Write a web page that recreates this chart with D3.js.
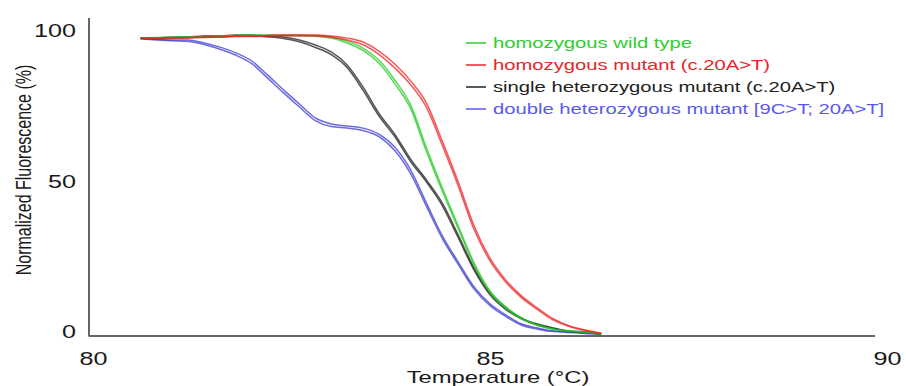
<!DOCTYPE html>
<html>
<head>
<meta charset="utf-8">
<script src="https://cdn.jsdelivr.net/npm/d3@7"></script>
<style>
  html, body { margin: 0; padding: 0; background: #fff; }
  svg { display: block; font-family: "Liberation Sans", Arial, sans-serif; }
</style>
</head>
<body>
<svg id="chart" width="906" height="386"></svg>
<script>
// ---- data ----
const temps = [80.6, 80.8, 81.0, 81.2, 81.4, 81.6, 81.8, 82.0, 82.2, 82.4,
               82.6, 82.8, 83.0, 83.2, 83.4, 83.6, 83.8, 84.0, 84.2, 84.4,
               84.6, 84.8, 85.0, 85.2, 85.4, 85.6, 85.8, 86.0, 86.2, 86.4];

const doubleHetA = [98.3, 98.0, 97.7, 97.7, 96.7, 95.3, 93.4, 90.7, 86.0, 81.1,
                    76.4, 71.8, 69.8, 69.1, 68.4, 66.4, 62.1, 54.5, 43.5, 32.6,
                    23.9, 15.6, 10.0, 6.3, 3.3, 2.0, 1.0, 0.7, 0.3, 0];
const doubleHetB = [98.1, 97.7, 97.4, 97.2, 96.2, 94.6, 92.6, 89.8, 85.0, 80.1,
                    75.4, 70.9, 68.9, 68.4, 67.6, 65.6, 61.0, 53.3, 42.4, 31.7,
                    23.1, 14.9, 9.4, 5.8, 2.9, 1.6, 0.8, 0.5, 0.2, 0];
const singleHetA = [98.3, 98.3, 98.7, 98.7, 99.0, 99.0, 99.3, 99.3, 99.0, 98.7,
                    97.7, 96.0, 93.7, 89.4, 82.1, 73.4, 66.4, 58.1, 51.2, 43.5,
                    32.9, 21.9, 13.6, 8.6, 5.3, 3.3, 2.0, 1.0, 0.7, 0];
const singleHetB = [98.2, 98.1, 98.4, 98.5, 98.8, 98.9, 99.1, 99.0, 98.7, 98.2,
                    97.1, 95.2, 92.8, 88.5, 81.0, 72.5, 65.6, 57.3, 50.5, 42.6,
                    32.0, 21.2, 13.0, 8.1, 5.0, 3.0, 1.8, 0.8, 0.5, 0];
const wildTypeA  = [98.3, 98.5, 98.7, 98.7, 98.8, 99.0, 99.2, 99.3, 99.3, 99.3,
                    99.3, 99.2, 98.7, 97.3, 95.0, 91.0, 84.4, 76.1, 61.8, 48.5,
                    35.9, 23.6, 14.3, 9.0, 5.3, 3.0, 1.7, 1.0, 0.7, 0];
const wildTypeB  = [98.2, 98.3, 98.5, 98.6, 98.7, 98.8, 99.0, 99.1, 99.2, 99.1,
                    99.1, 98.9, 98.3, 96.7, 94.2, 90.0, 83.2, 74.9, 60.6, 47.4,
                    35.0, 22.9, 13.8, 8.5, 5.0, 2.8, 1.5, 0.9, 0.5, 0];
const homMutA    = [98.3, 98.3, 98.3, 98.5, 98.7, 98.7, 99.0, 99.0, 99.2, 99.3,
                    99.3, 99.3, 99.0, 98.3, 97.0, 94.0, 89.7, 84.1, 76.7, 64.0,
                    50.5, 35.9, 25.2, 17.9, 12.6, 8.6, 5.0, 2.7, 1.3, 0.3];
const homMutB    = [98.2, 98.1, 98.2, 98.3, 98.5, 98.6, 98.8, 98.8, 99.0, 99.1,
                    99.1, 99.0, 98.6, 97.7, 96.1, 92.9, 88.4, 82.8, 75.3, 62.6,
                    49.2, 34.7, 24.3, 17.2, 12.0, 8.1, 4.6, 2.5, 1.1, 0.2];

const legendLabels = ["homozygous wild type", "homozygous mutant (c.20A>T)",
                      "single heterozygous mutant (c.20A>T)", "double heterozygous mutant [9C>T; 20A>T]"];
const xTicks = [80, 85, 90];
const yTicks = [0, 50, 100];

// ---- styling ----
const colors = { wt: "#22c922", hom: "#ec2224", single: "#1e1e1e", dbl: "#3b3bd0" };
const legendColors = ["#2fcf2f", "#e8262a", "#222222", "#5a5af0"];
const textStretch = 1.4;

const svg = d3.select("#chart");
const x = d3.scaleLinear().domain([80, 90]).range([93, 887]);
const y = d3.scaleLinear().domain([0, 100]).range([334, 33]);

const axisX0 = 89, axisX1 = 875, axisY0 = 336, axisYTop = 18;

// axis lines
svg.append("line").attr("x1", axisX0).attr("x2", axisX0).attr("y1", axisYTop).attr("y2", axisY0 + 0.5)
  .attr("stroke", "#666").attr("stroke-width", 2);
svg.append("line").attr("x1", axisX0).attr("x2", axisX1).attr("y1", axisY0).attr("y2", axisY0)
  .attr("stroke", "#666").attr("stroke-width", 2);

// x axis ticks (labels only)
const gx = svg.append("g").attr("transform", `translate(0,${axisY0})`)
  .call(d3.axisBottom(x).tickValues(xTicks).tickSize(0).tickFormat(d3.format("d")));
gx.select(".domain").remove();
gx.selectAll("text").attr("y", 29).attr("dy", null)
  .attr("font-size", 18).attr("fill", "#1a1a1a")
  .attr("font-family", "Liberation Sans, Arial, sans-serif")
  .attr("transform", `scale(${textStretch},1)`);

// y axis ticks (labels only)
const gy = svg.append("g").attr("transform", `translate(${axisX0},0)`)
  .call(d3.axisLeft(y).tickValues(yTicks).tickSize(0).tickFormat(d3.format("d")));
gy.select(".domain").remove();
gy.selectAll("text").attr("x", -13 / textStretch).attr("dy", "0.2em")
  .attr("font-size", 18).attr("fill", "#1a1a1a")
  .attr("font-family", "Liberation Sans, Arial, sans-serif")
  .attr("transform", `scale(${textStretch},1)`);

// axis titles
svg.append("g").attr("transform", `translate(498,383)`)
  .append("text").attr("text-anchor", "middle").attr("font-size", 17).attr("fill", "#1a1a1a")
  .attr("transform", `scale(${textStretch},1)`).text("Temperature (°C)");
svg.append("g").attr("transform", `translate(31,170)`)
  .append("text").attr("text-anchor", "middle").attr("font-size", 16).attr("fill", "#1a1a1a")
  .attr("transform", `scale(${textStretch},1) rotate(-90)`).text("Normalized Fluorescence (%)");

// curves
const line = d3.line().x((d, i) => x(temps[i])).y(d => y(d)).curve(d3.curveMonotoneX);
const series = [
  { vals: [doubleHetA, doubleHetB], color: colors.dbl },
  { vals: [singleHetA, singleHetB], color: colors.single },
  { vals: [wildTypeA, wildTypeB], color: colors.wt },
  { vals: [homMutA, homMutB], color: colors.hom }
];
const gc = svg.append("g");
series.forEach(s => {
  s.vals.forEach(v => {
    gc.append("path").attr("d", line(v)).attr("fill", "none")
      .attr("stroke", s.color).attr("stroke-width", 1.5).attr("stroke-opacity", 0.75)
      .attr("stroke-linejoin", "round");
  });
});

// legend
const lg = svg.append("g");
const rowY = [43, 65, 87, 109];
legendLabels.forEach((lab, i) => {
  lg.append("line").attr("x1", 466).attr("x2", 486).attr("y1", rowY[i]).attr("y2", rowY[i])
    .attr("stroke", legendColors[i]).attr("stroke-width", 1.5);
  lg.append("g").attr("transform", `translate(493,${rowY[i] + 5})`)
    .append("text").attr("font-size", 15).attr("fill", legendColors[i])
    .attr("transform", `scale(1.35,1)`).text(lab);
});
</script>
</body>
</html>
